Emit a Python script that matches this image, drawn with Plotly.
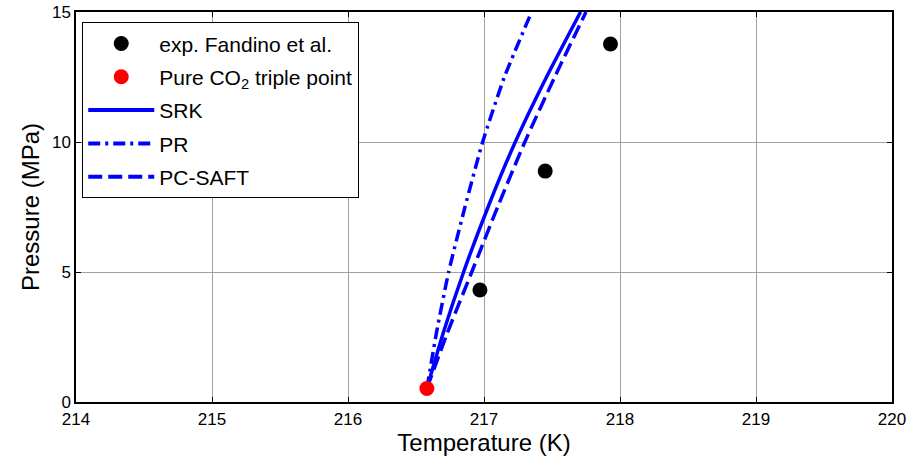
import plotly.graph_objects as go

# experimental data (Fandino et al.)
exp_T = [216.97, 217.45, 217.93]
exp_P = [4.31, 8.88, 13.77]
# pure CO2 triple point
tp_T = [216.58]
tp_P = [0.52]
# model curves (pressure grid shared)
curve_P = [0.52, 2.65, 5.0, 7.5, 10.0, 12.5, 15.0]
srk_T = [216.58, 216.70, 216.85, 217.03, 217.23, 217.46, 217.71]
pr_T = [216.58, 216.65, 216.74, 216.86, 216.99, 217.15, 217.35]
pcsaft_T = [216.58, 216.73, 216.91, 217.10, 217.30, 217.52, 217.75]

x_ticks = [214, 215, 216, 217, 218, 219, 220]
y_ticks = [0, 5, 10, 15]

FONT = "Liberation Sans, Arial, sans-serif"
BLUE = "#0000ff"
DASH = "14px,6px"
DASHDOT = "12px,5px,3px,5px"
fig = go.Figure()
for tt, d in [(srk_T, "solid"), (pr_T, DASHDOT), (pcsaft_T, DASH)]:
    fig.add_trace(go.Scatter(x=tt, y=curve_P, mode="lines", showlegend=False, hoverinfo="skip",
                             line=dict(color=BLUE, width=3.5, dash=d, shape="spline", smoothing=0.5)))
fig.add_trace(go.Scatter(x=exp_T, y=exp_P, mode="markers", name="exp. Fandino et al.",
                         legendgroup="g1", marker=dict(color="black", size=15)))
fig.add_trace(go.Scatter(x=tp_T, y=tp_P, mode="markers", name="Pure CO<sub>2</sub> triple point",
                         legendgroup="g2", marker=dict(color="red", size=15)))
# legend entries for the model lines
for i, (nm, d) in enumerate([("SRK", "solid"), ("PR", DASHDOT), ("PC-SAFT", DASH)]):
    fig.add_trace(go.Scatter(x=[None], y=[None], mode="lines", name=nm, legendgroup=f"l{i}",
                             line=dict(color=BLUE, width=4, dash=d)))

axis_common = dict(showline=True, linecolor="black", linewidth=1.5, mirror="ticks",
                   ticks="inside", ticklen=5, tickcolor="black", automargin=False,
                   ticklabeloverflow="allow",
                   showgrid=True, gridcolor="#a0a0a0", gridwidth=1, zeroline=False,
                   tickfont=dict(family=FONT, size=17, color="black"))
fig.update_xaxes(range=[214, 220], tickvals=x_ticks, ticktext=[str(v) for v in x_ticks],
                 title=dict(text="Temperature (K)", font=dict(family=FONT, size=24, color="black"), standoff=4),
                 ticklabelstandoff=1, **axis_common)
fig.update_yaxes(range=[0, 15], tickvals=y_ticks, ticktext=[str(v) for v in y_ticks],
                 title=dict(text="Pressure (MPa)", font=dict(family=FONT, size=24, color="black"), standoff=6),
                 **axis_common)
fig.update_layout(width=910, height=465, margin=dict(l=76, r=18, t=12, b=63, autoexpand=False),
                  plot_bgcolor="white", paper_bgcolor="white",
                  font=dict(family=FONT, color="black"),
                  legend=dict(x=0.0074, y=0.974, xanchor="left", yanchor="top",
                              bgcolor="white", bordercolor="black", borderwidth=1.2,
                              font=dict(family=FONT, size=21, color="black"),
                              itemwidth=66, tracegroupgap=3))
fig.write_html("out.html", config={"displayModeBar": False},
               post_script="document.body.style.margin='0';document.body.style.overflow='hidden';")
